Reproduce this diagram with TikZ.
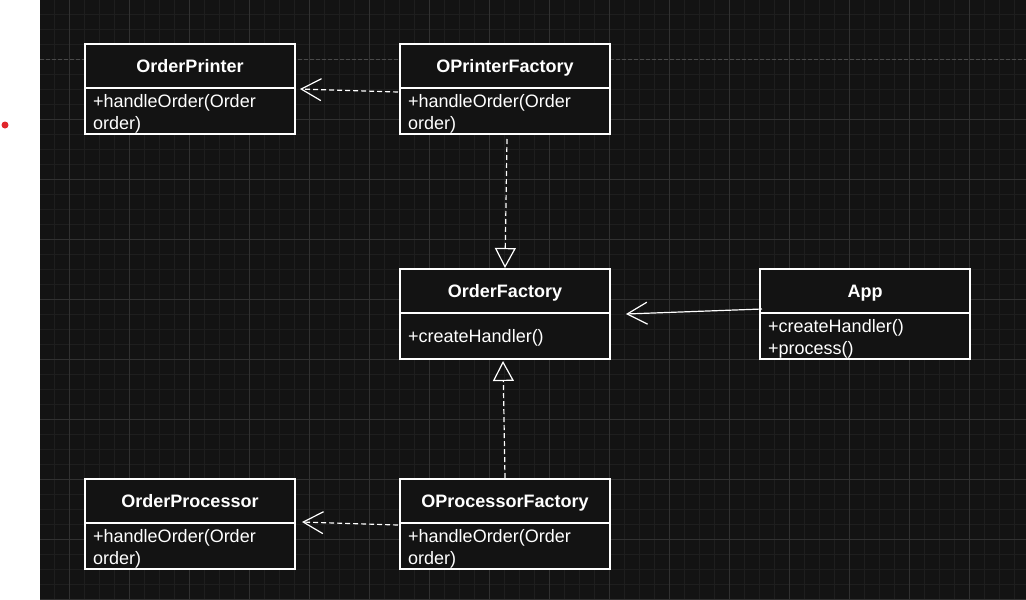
\documentclass[tikz,border=0pt]{standalone}
\usepackage{fontspec}
\setmainfont{Liberation Sans}
\usetikzlibrary{arrows.meta}
\definecolor{bgc}{HTML}{131313}
\definecolor{minorc}{HTML}{1E1E1E}
\definecolor{majorc}{HTML}{313131}
\definecolor{dashc}{HTML}{4A4A4A}
\definecolor{redc}{HTML}{E0262B}
\tikzset{
  umlbox/.style={draw=white, line width=1.2pt, fill=bgc, minimum width=210pt, minimum height=90pt, inner sep=0pt, outer sep=0pt},
  boxline/.style={draw=white, line width=1.2pt},
  titletext/.style={text=white, inner sep=0pt, font=\fontsize{18}{21}\selectfont\bfseries},
  bodytext/.style={text=white, inner sep=0pt, font=\fontsize{18}{21}\selectfont},
  dashconn/.style={draw=white, line width=1.2pt, dash pattern=on 5pt off 3pt},
  solidconn/.style={draw=white, line width=1.2pt},
  openarrow/.style={-{Straight Barb[length=20pt,width=22pt]}},
  realize/.style={-{Triangle[open,length=20pt,width=21pt]}},
}
\newcommand\umlbox[6]{%
  \node[umlbox, anchor=north west] (#1) at (#2,#3) {};
  \draw[boxline] ([yshift=-44pt]#1.north west) -- ([yshift=-44pt]#1.north east);
  \node[titletext, anchor=base] (#1-t) at ([yshift=-28pt]#1.north) {#4};
  \node[bodytext, anchor=base west] (#1-a) at ([xshift=8pt,yshift=-63pt]#1.north west) {#5};
  \node[bodytext, anchor=base west] (#1-b) at ([xshift=8pt,yshift=-85pt]#1.north west) {#6};
}
\begin{document}
\begin{tikzpicture}[x=1pt,y=-1pt]
\useasboundingbox (0,0) rectangle (1026,600);
\fill[white] (0,0) rectangle (40,600);
\fill[bgc] (40,0) rectangle (1026,600);
% grid
\foreach \gx in {54,69,...,1026} \draw[minorc, line width=0.8pt] (\gx,0) -- (\gx,600);
\foreach \gy in {14,29,...,600} \draw[minorc, line width=0.8pt] (40,\gy) -- (1026,\gy);
\foreach \gx in {69,129,...,1026} \draw[majorc, line width=0.9pt] (\gx,0) -- (\gx,600);
\foreach \gy in {119,179,...,600} \draw[majorc, line width=0.9pt] (40,\gy) -- (1026,\gy);
\draw[dashc, line width=1pt, dash pattern=on 3.5pt off 2.5pt] (40,59.5) -- (1026,59.5);
\fill[redc] (5,125) circle (3.5);
% boxes
\umlbox{op}{85}{44}{OrderPrinter}{+handleOrder(Order}{order)}
\umlbox{opf}{400}{44}{OPrinterFactory}{+handleOrder(Order}{order)}
\umlbox{of}{400}{269}{OrderFactory}{}{}
\node[bodytext, anchor=base west] (of-c) at ([xshift=8pt,yshift=-73pt]of.north west) {+createHandler()};
\umlbox{app}{760}{269}{App}{+createHandler()}{+process()}
\umlbox{pr}{85}{479}{OrderProcessor}{+handleOrder(Order}{order)}
\umlbox{prf}{400}{479}{OProcessorFactory}{+handleOrder(Order}{order)}
% connectors
\draw[dashconn, openarrow] ([xshift=-2pt,yshift=-3pt]opf.west) -- ([xshift=5pt]op.east);
\draw[dashconn, realize] ([xshift=2pt,yshift=-5pt]opf.south) -- ([yshift=1pt]of.north);
\draw[solidconn, openarrow] ([xshift=2pt,yshift=5pt]app.west) -- ([xshift=16pt]of.east);
\draw[dashconn, realize] ([xshift=0pt,yshift=1pt]prf.north) -- ([xshift=-2pt,yshift=-2pt]of.south);
\draw[dashconn, openarrow] ([xshift=-2pt,yshift=-1pt]prf.west) -- ([xshift=7pt,yshift=2pt]pr.east);
\end{tikzpicture}
\end{document}
